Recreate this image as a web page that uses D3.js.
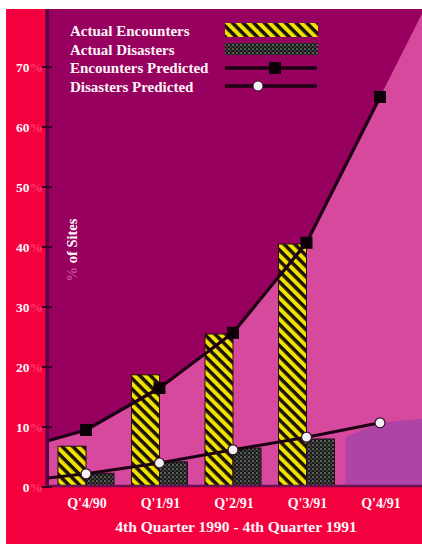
<!DOCTYPE html>
<html><head><meta charset="utf-8">
<script src="https://cdn.jsdelivr.net/npm/d3@7"></script>
<style>html,body{margin:0;padding:0;background:#fff;}svg{display:block;}</style>
</head><body>
<script>
const quarters = ["Q'4/90","Q'1/91","Q'2/91","Q'3/91","Q'4/91"];
const actualEncounters = [6.8, 18.7, 25.5, 40.5, null];
const actualDisasters = [2.3, 4.2, 6.5, 8.0, null];
const encountersPredicted = [9.5, 16.5, 25.7, 40.7, 65.0];
const disastersPredicted = [2.2, 4.0, 6.2, 8.3, 10.7];
const encountersTrendStart = 7.7;   // value where the predicted curve enters at the axis
const disastersTrendStart = 1.5;
const yTicks = [0,10,20,30,40,50,60,70];
const legendItems = ["Actual Encounters","Actual Disasters","Encounters Predicted","Disasters Predicted"];
const xTitle = "4th Quarter 1990 - 4th Quarter 1991";
const yTitle = "of Sites";

const W = 422, H = 544;
const plot = {l:45, t:9, r:422, b:487};
const font = "'Liberation Serif','Times New Roman',serif";
const C = {red:"#f5003e", dark:"#98005f", pink:"#d7499c", purple:"#ad44a6", line:"#1e0014", yellow:"#f2e200"};

const svg = d3.select("body").append("svg").attr("width",W).attr("height",H);
const defs = svg.append("defs");
const stripe = defs.append("pattern").attr("id","stripe").attr("patternUnits","userSpaceOnUse")
  .attr("width",7.5).attr("height",7.5).attr("patternTransform","rotate(-45)");
stripe.append("rect").attr("width",7.5).attr("height",7.5).attr("fill","#1a1208");
stripe.append("rect").attr("width",4).attr("height",7.5).attr("fill",C.yellow);
const dots = defs.append("pattern").attr("id","dots").attr("patternUnits","userSpaceOnUse")
  .attr("width",4).attr("height",4);
dots.append("rect").attr("width",4).attr("height",4).attr("fill","#1a1a1a");
dots.append("circle").attr("cx",1).attr("cy",1).attr("r",0.85).attr("fill","#95a290");
dots.append("circle").attr("cx",3).attr("cy",3).attr("r",0.75).attr("fill","#66726a");
const clip = defs.append("clipPath").attr("id","pc");
clip.append("rect").attr("x",plot.l).attr("y",plot.t).attr("width",plot.r-plot.l).attr("height",plot.b-plot.t);

// frame
svg.append("rect").attr("x",6).attr("y",9).attr("width",W-6).attr("height",H-9).attr("fill",C.red);
svg.append("rect").attr("x",plot.l).attr("y",plot.t).attr("width",plot.r-plot.l).attr("height",plot.b-plot.t).attr("fill",C.dark);

const x = d3.scaleLinear().domain([0,4]).range([86,380]);
const y = d3.scaleLinear().domain([0,70]).range([plot.b,67]);
const qL = x.invert(plot.l+3), qR = x.invert(plot.r+4);

const encPts = [{q:qL, v:encountersTrendStart}].concat(encountersPredicted.map((v,i)=>({q:i,v})));
const disPts = [{q:qL, v:disastersTrendStart}].concat(disastersPredicted.map((v,i)=>({q:i,v})));
const n = encountersPredicted.length;
const slopeE = encountersPredicted[n-1]-encountersPredicted[n-2];
const encExt = encPts.concat([{q:qR, v:encountersPredicted[n-1]+slopeE*(qR-(n-1))}]);
const slopeD = disastersPredicted[n-1]-disastersPredicted[n-2];
const disExt = disPts.concat([{q:qR, v:disastersPredicted[n-1]+slopeD*0.3}]);

const g = svg.append("g").attr("clip-path","url(#pc)");
const area = d3.area().x(d=>x(d.q)).y0(y(0)).y1(d=>y(d.v));
g.append("path").datum(encExt).attr("d",area).attr("fill",C.pink);
g.append("path").datum(disExt.filter(d=>d.q>=3))
  .attr("d", d3.area().x(d=>x(Math.max(d.q,3.53))).y0(y(0)).y1(d=>y(d.v)))
  .attr("fill",C.purple);

// bars
const bw = 28;
g.selectAll(".be").data(actualEncounters.map((v,i)=>({v,i})).filter(d=>d.v!=null)).join("rect")
  .attr("x",d=>x(d.i)-bw).attr("width",bw).attr("y",d=>y(d.v)).attr("height",d=>y(0)-y(d.v))
  .attr("fill","url(#stripe)").attr("stroke","#2a1010").attr("stroke-width",1);
g.selectAll(".bd").data(actualDisasters.map((v,i)=>({v,i})).filter(d=>d.v!=null)).join("rect")
  .attr("x",d=>x(d.i)).attr("width",bw).attr("y",d=>y(d.v)).attr("height",d=>y(0)-y(d.v))
  .attr("fill","url(#dots)").attr("stroke","#201018").attr("stroke-width",1);

// axis line + ticks
svg.append("line").attr("x1",47.5).attr("x2",47.5).attr("y1",plot.t).attr("y2",plot.b).attr("stroke","#5a0040").attr("stroke-width",3);
svg.append("line").attr("x1",plot.l).attr("x2",plot.r).attr("y1",plot.b-1).attr("y2",plot.b-1).attr("stroke","#6a1050").attr("stroke-width",2.5);
svg.selectAll(".tk").data(yTicks).join("line").attr("x1",42).attr("x2",52)
  .attr("y1",d=>y(d)).attr("y2",d=>y(d)).attr("stroke","#3a0028").attr("stroke-width",2);

// lines
const line = d3.line().x(d=>x(d.q)).y(d=>y(d.v));
g.append("path").datum(encPts).attr("d",line).attr("fill","none").attr("stroke",C.line).attr("stroke-width",3.2).attr("stroke-linejoin","round");
g.append("path").datum(disPts).attr("d",line).attr("fill","none").attr("stroke",C.line).attr("stroke-width",3);
g.selectAll(".me").data(encountersPredicted).join("rect")
  .attr("x",(d,i)=>x(i)-6).attr("y",d=>y(d)-6).attr("width",12).attr("height",12).attr("fill","#0e0008");
g.selectAll(".md").data(disastersPredicted).join("circle")
  .attr("cx",(d,i)=>x(i)).attr("cy",d=>y(d)).attr("r",5).attr("fill","#f4f0f4").attr("stroke","#30102a").attr("stroke-width",1.2);

// y tick labels
const yl = svg.selectAll(".yl").data(yTicks).join("text").attr("x",43).attr("y",d=>y(d)+5)
  .attr("text-anchor","end").attr("font-family",font).attr("font-weight","bold").attr("font-size",13.5).attr("fill","#fff6f8");
yl.append("tspan").text(d=>d);
yl.append("tspan").attr("fill","#ff9ab8").attr("fill-opacity",0.4).text("%");

// y title
const yt = svg.append("text").attr("transform","translate(77,250) rotate(-90)").attr("text-anchor","middle")
  .attr("font-family",font).attr("font-weight","bold").attr("font-size",14.5).attr("fill","#fff6f8");
yt.append("tspan").attr("fill","#e080b8").attr("fill-opacity",0.6).text("% ");
yt.append("tspan").text(yTitle);

// x labels
svg.selectAll(".xl").data(quarters).join("text").attr("x",(d,i)=>x(i)+1).attr("y",508)
  .attr("text-anchor","middle").attr("font-family",font).attr("font-weight","bold").attr("font-size",14)
  .attr("fill","#fff6f8").text(d=>d);
svg.append("text").attr("x",236).attr("y",532).attr("text-anchor","middle").attr("font-family",font)
  .attr("font-weight","bold").attr("font-size",15.5).attr("fill","#fff6f8").text(xTitle);

// legend
const lg = svg.append("g");
legendItems.forEach((t,i)=>{
  lg.append("text").attr("x",70).attr("y",36+i*18.6).attr("font-family",font).attr("font-weight","bold")
    .attr("font-size",15).attr("fill","#fff6f8").text(t);
});
lg.append("rect").attr("x",225).attr("y",23).attr("width",93).attr("height",14).attr("fill","url(#stripe)");
lg.append("rect").attr("x",225).attr("y",43).attr("width",93).attr("height",12).attr("fill","url(#dots)");
lg.append("line").attr("x1",225).attr("x2",317).attr("y1",68).attr("y2",68).attr("stroke",C.line).attr("stroke-width",3.5);
lg.append("rect").attr("x",269).attr("y",62).attr("width",12).attr("height",12).attr("fill","#0e0008");
lg.append("line").attr("x1",225).attr("x2",317).attr("y1",86).attr("y2",86).attr("stroke",C.line).attr("stroke-width",3.5);
lg.append("circle").attr("cx",258).attr("cy",86).attr("r",5).attr("fill","#f4f0f4").attr("stroke","#30102a");
</script>
</body></html>
